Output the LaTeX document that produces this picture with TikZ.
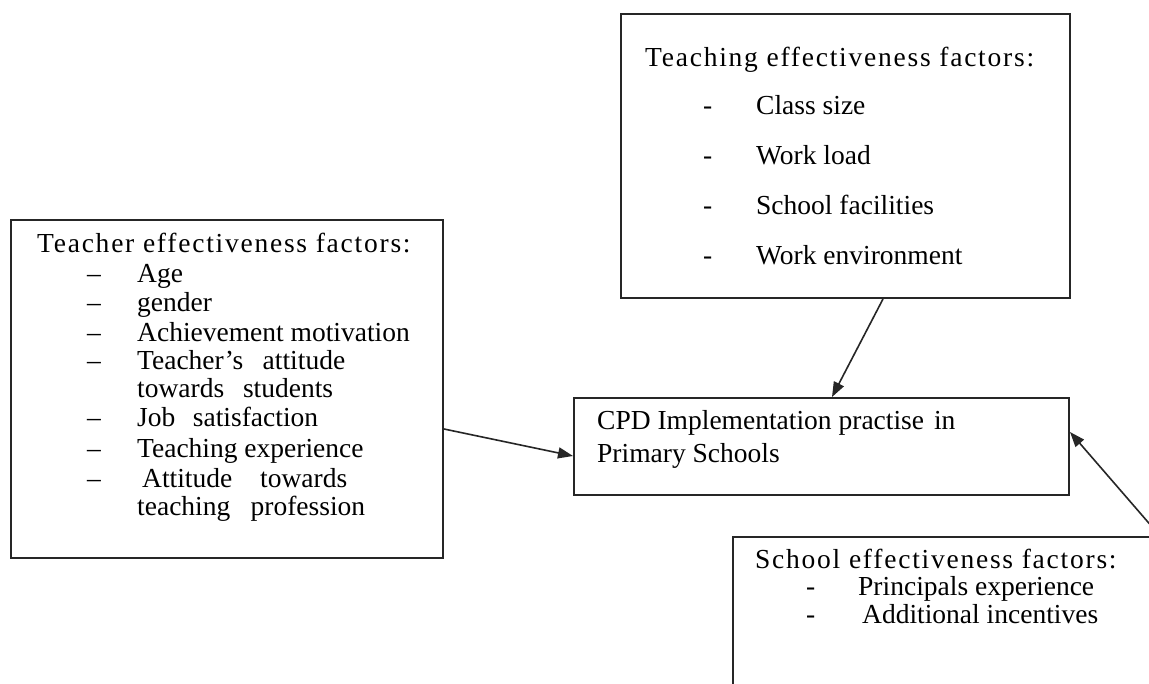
\documentclass[tikz,border=0pt]{standalone}
\usepackage{fontspec}
\setmainfont{Liberation Serif}
\newfontfamily\titlefont[LetterSpace=6.4]{Liberation Serif}
\usetikzlibrary{arrows.meta,calc}

\begin{document}
\begin{tikzpicture}[x=1pt,y=-1pt,
  box/.style={draw=black!85, line width=2pt, anchor=north west, inner sep=0pt},
  txt/.style={anchor=base west, inner sep=0pt, font=\fontsize{27.5}{30}\selectfont},
  ttl/.style={anchor=base west, inner sep=0pt, font=\fontsize{27.5}{30}\titlefont},
  link/.style={draw=black!85, line width=1.6pt, -{Triangle[length=15pt,width=11pt]}}]
\useasboundingbox (0,0) rectangle (1149,684);
\clip (0,0) rectangle (1149,684);
\fill[white] (0,0) rectangle (1149,684);

% frames
\node[box, minimum width=432pt, minimum height=338pt] (teacher) at (10,219) {};
\node[box, minimum width=449pt, minimum height=284pt] (teaching) at (620,13) {};
\node[box, minimum width=495pt, minimum height=97pt] (cpd) at (573,397) {};
\node[box, minimum width=500pt, minimum height=220pt] (school) at (732,536) {};

% teacher effectiveness factors
\node[ttl] (t0) at (37,253) {Teacher effectiveness factors:};
\foreach \y/\n in {283/1,312/2,342/3,370/4,427/6,457/7,487/8}
  \node[txt] (td\n) at (87,\y) {–};
\node[txt] (t1) at (137,283) {Age};
\node[txt] (t2) at (137,312) {gender};
\node[txt] (t3) at (137,342) {Achievement motivation};
\node[txt] (t4) at (137,370) {\makebox[208pt][s]{Teacher's attitude}};
\node[txt] (t5) at (137,398) {\makebox[196pt][s]{towards students}};
\node[txt] (t6) at (137,427) {\makebox[181pt][s]{Job satisfaction}};
\node[txt] (t7) at (137,457) {Teaching experience};
\node[txt] (t8) at (142,487) {\makebox[205pt][s]{Attitude towards}};
\node[txt] (t9) at (137,515) {\makebox[228pt][s]{teaching profession}};

% teaching effectiveness factors
\node[ttl] (g0) at (645,67) {Teaching effectiveness factors:};
\foreach \y/\n/\s in {115/1/Class size,165/2/Work load,215/3/School facilities,265/4/Work environment}{
  \node[txt] (gd\n) at (703,\y) {-};
  \node[txt] (g\n) at (756,\y) {\s};
}

% central outcome
\node[txt] (c1) at (597,430) {CPD Implementation practise\hspace{0.36em}in};
\node[txt] (c2) at (597,463) {Primary Schools};

% school effectiveness factors
\node[ttl] (s0) at (755,568) {School effectiveness factors:};
\node[txt] (sd1) at (806,595) {-};
\node[txt] (sd2) at (806,623) {-};
\node[txt] (s1) at (858,595) {Principals experience};
\node[txt] (s2) at (862,623) {Additional incentives};

% connectors
\coordinate (schoolfoot) at ($(school.north west)+(428,0)$);
\draw[link] ($(teacher.north east)+(0,210)$) -- ($(cpd.north west)+(0,59)$);
\draw[link] ($(teaching.south west)+(263,0)$) -- ($(cpd.north west)+(259,0)$);
\draw[link] (schoolfoot) -- ($(cpd.north east)+(0,35)$);
\end{tikzpicture}
\end{document}
